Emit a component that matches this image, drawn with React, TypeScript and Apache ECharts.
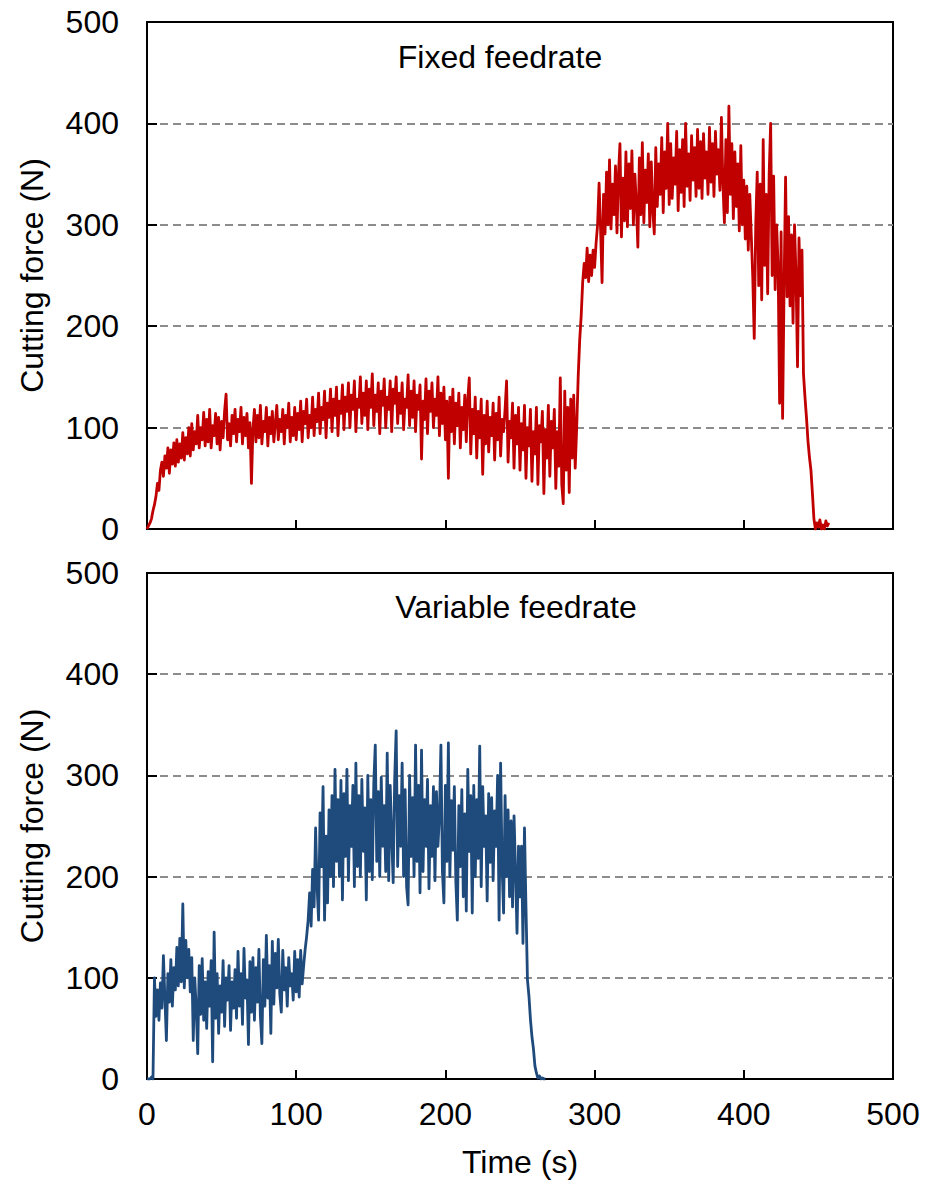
import React, { useEffect, useRef } from 'react';
import * as echarts from 'echarts';

// Sampling step of the force records (s)
const timeStepS = 1;

// Axis ranges
const axisMin = 0;
const axisMax = 500;
const axisInterval = 100;

const panelTitles = ['Fixed feedrate', 'Variable feedrate'];
const xAxisTitle = 'Time (s)';
const yAxisTitle = 'Cutting force (N)';

// Fixed feedrate cutting force (N), one value per second from t = 0 s
const fixedForce = [
  0, 3, 6, 10, 18, 24, 32, 45, 38, 58,
  66, 52, 72, 60, 80, 55, 78, 64, 85, 62,
  88, 66, 84, 70, 95, 68, 90, 74, 100, 72,
  104, 78, 96, 84, 112, 80, 100, 88, 115, 82,
  108, 86, 118, 80, 102, 92, 114, 84, 110, 78,
  106, 90, 116, 133, 88, 104, 82, 112, 94, 118,
  86, 108, 96, 120, 84, 110, 92, 114, 80, 105,
  45, 98, 118, 86, 112, 90, 122, 84, 106, 96,
  120, 82, 110, 94, 116, 86, 104, 122, 88, 108,
  96, 118, 84, 112, 100, 124, 86, 110, 92, 120,
  88, 114, 98, 126, 86, 116, 104, 128, 90, 112,
  100, 130, 92, 118, 106, 134, 94, 120, 108, 136,
  90, 124, 110, 138, 96, 128, 112, 140, 92, 126,
  114, 142, 98, 130, 116, 144, 100, 132, 118, 146,
  96, 128, 120, 150, 104, 134, 112, 146, 98, 138,
  120, 153, 102, 132, 116, 144, 94, 136, 122, 148,
  100, 130, 118, 146, 96, 138, 124, 150, 104, 134,
  114, 144, 98, 128, 120, 152, 102, 136, 110, 146,
  96, 132, 118, 142, 69, 126, 108, 148, 94, 136,
  116, 144, 100, 128, 112, 150, 92, 134, 104, 140,
  88, 126, 50, 130, 96, 138, 84, 124, 102, 134,
  80, 120, 98, 132, 86, 128, 149, 74, 118, 94,
  130, 70, 116, 90, 128, 54, 112, 84, 126, 76,
  110, 92, 124, 68, 114, 88, 130, 72, 108, 96,
  118, 146, 66, 106, 90, 124, 60, 112, 84, 120,
  58, 104, 78, 122, 50, 100, 82, 118, 47, 96,
  74, 120, 44, 102, 86, 116, 35, 98, 70, 122,
  52, 106, 80, 118, 40, 96, 62, 149, 44, 25,
  136, 58, 120, 36, 128, 70, 132, 60, 100, 150,
  186, 210, 243, 262, 248, 277, 244, 270, 250, 275,
  258, 282, 300, 341, 296, 243, 330, 291, 352, 300,
  364, 296, 340, 310, 358, 292, 350, 380, 288, 346,
  304, 372, 298, 360, 316, 373, 300, 350, 320, 278,
  366, 310, 381, 302, 354, 322, 370, 298, 362, 314,
  291, 376, 318, 360, 330, 386, 312, 372, 336, 400,
  320, 380, 326, 366, 340, 392, 314, 374, 332, 384,
  318, 400, 338, 370, 324, 388, 344, 376, 328, 394,
  336, 382, 326, 390, 346, 372, 330, 396, 342, 380,
  328, 392, 350, 374, 334, 406, 340, 302, 384, 312,
  417, 330, 380, 306, 372, 318, 360, 294, 378, 300,
  344, 286, 338, 275, 330, 290, 249, 188, 300, 352,
  240, 340, 226, 384, 260, 330, 232, 350, 400, 250,
  348, 236, 300, 260, 124, 293, 109, 240, 347, 229,
  308, 220, 290, 203, 300, 250, 160, 287, 230, 275,
  153, 130, 110, 87, 71, 58, 35, 10, 0, 6,
  2, 9, 0, 4, 0, 8, 3, 6,
];

// Variable feedrate cutting force (N), one value per second from t = 0 s
const variableForce = [
  0, 0, 0, 2, 0, 100, 62, 88, 58, 95,
  70, 122, 80, 38, 104, 76, 118, 72, 110, 88,
  130, 92, 139, 96, 173, 90, 137, 100, 128, 86,
  120, 38, 100, 70, 25, 112, 64, 119, 58, 96,
  50, 106, 72, 117, 17, 145, 60, 104, 45, 92,
  66, 117, 52, 100, 78, 112, 48, 96, 70, 108,
  60, 126, 72, 104, 54, 129, 80, 98, 34, 116,
  66, 120, 58, 110, 76, 128, 62, 35, 118, 72,
  142, 80, 112, 45, 136, 74, 124, 90, 138, 84,
  66, 127, 88, 110, 72, 120, 92, 104, 78, 126,
  86, 118, 81, 127, 94, 112, 128, 141, 157, 184,
  151, 207, 170, 248, 190, 157, 263, 210, 289, 157,
  240, 174, 266, 200, 280, 190, 306, 215, 276, 200,
  295, 177, 282, 220, 306, 196, 270, 230, 290, 190,
  312, 210, 280, 200, 296, 225, 268, 177, 300, 205,
  276, 197, 292, 330, 215, 284, 200, 298, 230, 270,
  205, 322, 196, 290, 240, 194, 296, 344, 210, 280,
  230, 312, 200, 286, 190, 172, 300, 220, 278, 200,
  330, 215, 290, 184, 325, 205, 276, 230, 296, 188,
  270, 220, 289, 196, 284, 230, 260, 330, 205, 174,
  290, 215, 332, 200, 275, 226, 289, 195, 157, 270,
  210, 286, 180, 262, 166, 306, 225, 280, 164, 290,
  200, 276, 218, 329, 190, 289, 230, 260, 176, 282,
  214, 278, 196, 265, 230, 300, 157, 312, 210, 164,
  280, 200, 266, 180, 255, 170, 260, 205, 144, 230,
  180, 230, 134, 248, 170, 98, 82, 59, 42, 30,
  13, 6, 1, 3, 0, 1, 0, 0,
];

const FONT = '"Liberation Sans", Arial, Helvetica, sans-serif';
const FS = 32;

export default function App() {
  const ref = useRef<HTMLDivElement>(null);

  useEffect(() => {
    if (!ref.current) return;
    const chart = echarts.init(ref.current, null, { renderer: 'svg' });

    const toPairs = (arr: number[]) => arr.map((v, i) => [i * timeStepS, v]);

    const grids = [
      { left: 147, top: 22, width: 746, height: 507 },
      { left: 147, top: 573, width: 746, height: 506 },
    ];

    const blackLine = { color: '#000', width: 2 };

    const option: any = {
      animation: false,
      backgroundColor: '#ffffff',
      textStyle: { fontFamily: FONT, color: '#000' },
      grid: grids.map((g) => ({
        ...g,
        show: true,
        borderColor: '#000',
        borderWidth: 2,
        backgroundColor: 'transparent',
        containLabel: false,
      })),
      xAxis: [0, 1].flatMap((i) => [
        {
          type: 'value',
          gridIndex: i,
          min: axisMin,
          max: axisMax,
          interval: axisInterval,
          position: 'bottom',
          axisLine: { show: true, onZero: false, lineStyle: blackLine },
          axisTick: { show: true, inside: true, length: 9, lineStyle: blackLine },
          axisLabel: {
            show: i === 1,
            fontSize: FS,
            color: '#000',
            fontFamily: FONT,
            margin: 19,
          },
          splitLine: { show: false },
          name: i === 1 ? xAxisTitle : '',
          nameLocation: 'middle',
          nameGap: 67,
          nameTextStyle: { fontSize: FS, color: '#000', fontFamily: FONT },
        },
        {
          type: 'value',
          gridIndex: i,
          min: axisMin,
          max: axisMax,
          position: 'top',
          axisLine: { show: true, onZero: false, lineStyle: blackLine },
          axisTick: { show: false },
          axisLabel: { show: false },
          splitLine: { show: false },
          z: 5,
        },
      ]),
      yAxis: [0, 1].map((i) => ({
        type: 'value',
        gridIndex: i,
        min: axisMin,
        max: axisMax,
        interval: axisInterval,
        axisLine: { show: true, onZero: false, lineStyle: blackLine },
        axisTick: { show: true, inside: true, length: 10, lineStyle: blackLine },
        axisLabel: {
          fontSize: FS,
          color: '#000',
          fontFamily: FONT,
          margin: 28,
        },
        splitLine: {
          show: true,
          lineStyle: { color: '#8c8c8c', type: [8, 5], width: 2 },
        },
        name: yAxisTitle,
        nameLocation: 'middle',
        nameGap: 99,
        nameTextStyle: { fontSize: FS, color: '#000', fontFamily: FONT },
      })),
      series: [
        {
          type: 'line',
          xAxisIndex: 0,
          yAxisIndex: 0,
          data: toPairs(fixedForce),
          showSymbol: false,
          symbol: 'none',
          lineStyle: { color: '#C00000', width: 2.8, join: 'round' },
          z: 3,
        },
        {
          type: 'line',
          xAxisIndex: 2,
          yAxisIndex: 1,
          data: toPairs(variableForce),
          showSymbol: false,
          symbol: 'none',
          lineStyle: { color: '#1F4A7C', width: 2.8, join: 'round' },
          z: 3,
        },
      ],
      graphic: [
        {
          type: 'text',
          x: 500,
          y: 57,
          style: {
            text: panelTitles[0],
            fontSize: FS,
            fontFamily: FONT,
            fill: '#000',
            textAlign: 'center',
            textVerticalAlign: 'middle',
          },
        },
        {
          type: 'text',
          x: 516,
          y: 607,
          style: {
            text: panelTitles[1],
            fontSize: FS,
            fontFamily: FONT,
            fill: '#000',
            textAlign: 'center',
            textVerticalAlign: 'middle',
          },
        },
      ],
    };

    chart.setOption(option);
    return () => {
      chart.dispose();
    };
  }, []);

  return (
    <div
      ref={ref}
      style={{ position: 'absolute', left: 0, top: 0, width: 925, height: 1184 }}
    />
  );
}
